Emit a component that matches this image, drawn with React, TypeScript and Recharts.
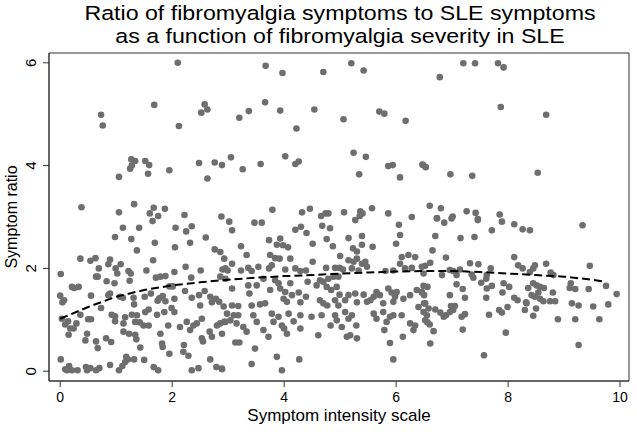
import React from 'react';
import { ScatterChart, Scatter, XAxis, YAxis, ReferenceArea } from 'recharts';

type Pt = [number, number];

// points with a ratio near 3 or higher
const highRatioPoints: Pt[] = [
  [2.1, 6.0], [1.68, 5.18], [2.58, 5.19], [2.63, 5.09], [2.52, 5.03], [0.73, 4.99], [0.76, 4.78], [2.12, 4.77],
  [1.27, 4.12], [1.34, 4.09], [1.52, 4.09], [1.59, 4.01], [1.25, 3.94], [1.28, 4.0], [1.57, 3.84], [1.95, 3.91],
  [1.05, 3.78], [2.48, 4.05], [2.76, 4.06], [2.89, 4.01], [2.63, 3.75], [0.38, 3.19], [1.05, 3.09], [1.32, 3.25],
  [1.67, 3.18], [1.87, 3.16], [1.6, 3.07], [1.75, 3.02], [2.22, 3.04], [2.88, 3.01],
  [3.67, 5.94], [3.97, 5.8], [4.7, 5.82], [5.2, 5.99], [5.42, 5.85], [3.66, 5.23], [3.37, 5.06], [3.2, 4.93],
  [3.93, 5.07], [4.54, 5.09], [4.22, 4.72], [5.06, 4.9], [5.7, 5.05], [5.79, 5.01], [6.17, 4.87], [3.05, 4.16],
  [3.26, 3.93], [3.58, 4.03], [4.02, 4.18], [4.2, 4.03], [4.26, 4.08], [5.24, 4.25], [5.46, 4.17], [5.34, 3.83],
  [5.86, 3.99], [5.94, 4.01], [6.07, 3.77], [6.47, 4.02], [3.79, 3.14], [4.32, 3.09], [4.46, 3.16], [4.66, 3.02],
  [4.74, 3.07], [4.79, 3.07], [5.07, 3.09], [5.36, 3.11], [5.4, 3.07], [5.35, 3.02], [5.57, 3.17], [5.86, 3.07],
  [6.28, 3.0],
  [7.2, 5.99], [7.41, 5.99], [7.82, 5.99], [7.92, 5.91], [6.78, 5.72], [7.87, 5.14], [8.68, 4.99], [6.48, 4.01],
  [6.53, 3.97], [6.97, 3.83], [7.36, 3.8], [8.53, 3.86], [6.6, 3.22], [6.8, 3.17], [6.73, 2.98], [7.01, 3.01],
  [7.26, 3.11], [7.42, 3.08], [7.46, 2.96], [7.85, 3.05],
];

// intensity 0-3
const lowIntensityPoints: Pt[] = [
  [1.12, 2.79], [1.41, 2.79], [1.65, 2.92], [2.06, 2.79], [2.25, 2.72], [2.35, 2.82], [0.98, 2.61], [1.27, 2.57],
  [1.69, 2.5], [2.05, 2.41], [2.32, 2.5], [2.6, 2.6], [1.37, 2.35], [1.66, 2.16], [0.36, 2.19], [0.54, 2.15],
  [0.63, 2.2], [0.89, 2.17], [0.69, 2.0], [0.86, 2.08], [0.99, 2.0], [1.02, 1.9], [1.08, 2.08], [1.22, 1.95],
  [1.26, 1.9], [1.54, 1.96], [0.01, 1.89], [0.64, 1.84], [0.67, 1.84], [0.83, 1.75], [0.97, 1.71], [1.24, 1.76],
  [1.71, 1.82], [1.79, 1.84], [1.88, 1.85], [2.04, 1.93], [2.24, 2.03], [2.34, 1.82], [2.51, 1.96], [2.76, 2.37],
  [2.9, 1.98], [0.21, 1.64], [0.25, 1.62], [0.33, 1.64], [0.55, 1.47], [0.86, 1.48], [0.89, 1.51], [0.0, 1.47],
  [0.04, 1.34], [0.07, 1.38], [0.73, 1.23], [1.07, 1.45], [1.12, 1.43], [1.31, 1.43], [1.32, 1.3], [1.51, 1.45],
  [1.62, 1.51], [1.74, 1.37], [1.77, 1.42], [1.83, 1.46], [1.95, 1.65], [2.01, 1.65], [1.88, 1.36], [2.04, 1.41],
  [2.23, 1.56], [2.35, 1.43], [2.48, 1.48], [2.58, 1.56], [2.68, 1.45], [2.71, 1.34], [2.78, 1.41], [2.84, 1.35],
  [1.58, 1.2], [1.52, 1.15], [1.73, 1.1], [1.86, 1.15], [1.99, 1.23], [2.04, 1.15], [2.5, 1.28], [0.92, 1.1],
  [0.98, 1.07], [0.98, 0.97], [1.16, 1.05], [1.13, 0.93], [1.28, 1.1], [1.37, 1.09], [1.34, 0.96], [1.42, 0.95],
  [1.49, 0.89], [1.58, 0.89], [0.5, 1.01], [0.55, 1.01], [0.03, 1.02], [0.14, 0.97], [0.09, 0.91], [0.18, 0.83],
  [0.24, 0.83], [0.29, 0.93], [0.36, 1.1], [0.15, 0.71], [0.48, 0.73], [0.45, 0.6], [0.64, 0.58], [0.67, 0.45],
  [0.82, 0.64], [0.91, 0.57], [1.13, 0.77], [1.23, 0.73], [1.34, 0.71], [1.36, 0.62], [1.43, 0.46], [1.79, 0.73],
  [1.82, 0.54], [1.83, 0.47], [1.93, 0.89], [2.14, 0.86], [2.26, 0.96], [2.32, 0.8], [2.38, 0.89], [2.44, 0.93],
  [2.53, 1.02], [2.53, 0.64], [2.55, 0.58], [2.67, 0.77], [2.71, 0.67], [2.8, 0.89], [2.86, 0.93], [2.93, 0.96],
  [2.89, 0.73], [2.21, 0.51], [2.2, 0.38], [2.29, 0.3], [1.95, 0.34], [0.01, 0.23], [0.16, 0.1], [0.09, 0.04],
  [0.12, 0.02], [0.21, 0.02], [0.31, 0.02], [0.46, 0.08], [0.48, 0.02], [0.54, 0.06], [0.64, 0.02], [0.7, 0.06],
  [0.89, 0.12], [1.05, 0.02], [1.11, 0.1], [1.18, 0.28], [1.16, 0.18], [1.21, 0.23], [1.32, 0.23], [1.5, 0.22],
  [1.67, 0.08], [1.75, 0.02], [2.35, 0.02], [2.47, 0.06], [2.68, 0.23], [2.79, 0.08], [2.89, 0.05],
];

// intensity 3-6.5
const midIntensityPoints: Pt[] = [
  [3.02, 2.91], [3.07, 2.74], [3.47, 2.89], [3.6, 2.89], [4.2, 2.75], [4.3, 2.81], [4.4, 2.69], [4.68, 2.83],
  [4.82, 2.78], [5.27, 2.94], [6.05, 2.85], [6.07, 2.65], [6.0, 2.48], [3.73, 2.55], [3.93, 2.58], [3.98, 2.45],
  [4.07, 2.41], [3.87, 2.46], [4.51, 2.48], [4.76, 2.57], [4.87, 2.43], [5.15, 2.59], [5.39, 2.63], [5.39, 2.46],
  [5.23, 2.39], [5.3, 2.33], [5.58, 2.42], [3.23, 2.43], [3.33, 2.26], [2.86, 2.32], [2.95, 2.0], [2.99, 1.96],
  [3.07, 2.09], [2.93, 2.19], [3.23, 1.96], [3.36, 2.01], [3.42, 1.95], [3.54, 2.03], [3.73, 2.0], [3.78, 2.06],
  [3.84, 2.2], [3.92, 2.19], [4.11, 2.19], [3.75, 2.26], [4.02, 1.98], [4.2, 2.0], [4.29, 1.95], [4.39, 1.96],
  [4.51, 2.13], [4.75, 2.01], [4.91, 2.01], [4.99, 2.01], [5.05, 1.98], [5.0, 2.24], [5.15, 2.16], [5.24, 2.13],
  [5.3, 2.19], [5.39, 2.09], [5.45, 2.13], [5.21, 2.0], [5.33, 1.96], [5.48, 2.03], [5.81, 1.95], [5.95, 1.96],
  [6.07, 2.09], [6.1, 2.22], [6.22, 2.26], [6.34, 2.22], [6.46, 2.03], [6.28, 2.01], [6.16, 2.0],
  [2.86, 1.84], [2.95, 1.8], [3.07, 1.61], [3.36, 1.67], [3.38, 1.51], [3.51, 1.67], [3.63, 1.8], [3.75, 1.58],
  [3.84, 1.77], [3.9, 1.71], [3.93, 1.61], [4.02, 1.54], [4.11, 1.71], [3.99, 1.41], [4.05, 1.35], [4.14, 1.48],
  [4.26, 1.53], [4.29, 1.34], [4.42, 1.74], [4.39, 1.45], [4.58, 1.67], [4.64, 1.77], [4.7, 1.74], [4.79, 1.8],
  [4.88, 1.84], [4.97, 1.84], [4.76, 1.64], [4.84, 1.58], [4.94, 1.64], [4.64, 1.38], [4.7, 1.32], [4.77, 1.28],
  [4.91, 1.38], [4.97, 1.28], [4.99, 1.49], [5.09, 1.38], [5.15, 1.48], [5.27, 1.51], [5.3, 1.34], [5.42, 1.49],
  [5.48, 1.35], [5.54, 1.38], [5.6, 1.45], [5.65, 1.54], [5.71, 1.48], [5.77, 1.32], [5.86, 1.61], [5.92, 1.53],
  [5.98, 1.45], [5.95, 1.35], [6.01, 1.54], [6.13, 1.41], [6.25, 1.48], [6.37, 1.58], [6.46, 1.54], [6.52, 1.32],
  [2.92, 1.26], [3.07, 1.28], [3.18, 1.27], [2.98, 1.12], [3.1, 1.09], [2.95, 0.96], [3.04, 0.99], [3.18, 1.09],
  [3.15, 0.93], [3.27, 0.86], [3.33, 0.77], [3.42, 1.28], [3.57, 1.3], [3.66, 1.32], [3.45, 1.09], [3.51, 0.96],
  [3.63, 0.8], [3.72, 0.67], [3.78, 1.12], [3.81, 0.96], [3.9, 1.06], [3.96, 0.89], [4.0, 0.83], [4.05, 0.73],
  [4.08, 1.12], [4.17, 0.97], [4.29, 1.09], [4.29, 0.83], [4.49, 1.06], [4.61, 0.7], [4.67, 1.09], [4.83, 0.89],
  [4.91, 1.09], [4.94, 0.99], [5.03, 0.86], [5.09, 1.15], [5.15, 1.02], [5.21, 1.09], [5.18, 0.7], [5.29, 0.89],
  [5.12, 0.67], [5.3, 0.64], [5.6, 1.12], [5.65, 1.02], [5.77, 1.15], [5.83, 0.96], [5.89, 1.06], [5.95, 1.09],
  [5.79, 0.8], [5.89, 0.55], [5.95, 0.23], [6.1, 1.09], [6.12, 0.67], [6.25, 0.93], [6.34, 0.89], [6.4, 1.25],
  [6.31, 0.8], [6.49, 1.15], [3.13, 0.56], [3.2, 0.56], [3.48, 0.44], [3.42, 0.14], [3.87, 0.28], [3.96, 0.02],
  [4.27, 0.23], [2.89, 0.04],
];

// intensity 6.5-10
const highIntensityPoints: Pt[] = [
  [6.73, 2.97], [6.86, 2.89], [6.99, 2.97], [7.46, 2.94], [7.71, 2.74], [7.89, 2.91], [8.11, 2.86], [8.26, 2.76],
  [8.39, 2.74], [9.33, 2.84], [7.15, 2.59], [7.4, 2.61], [6.7, 2.63], [6.65, 2.35], [6.89, 2.21], [6.61, 2.11],
  [6.52, 2.05], [6.49, 1.9], [6.82, 1.87], [6.96, 1.97], [7.02, 1.95], [7.08, 1.87], [7.14, 1.98], [7.32, 2.1],
  [7.47, 2.08], [7.35, 1.88], [7.38, 1.82], [7.62, 1.87], [7.69, 2.0], [7.61, 1.8], [8.11, 2.22], [8.18, 2.06],
  [8.26, 2.0], [8.39, 1.93], [8.45, 2.0], [8.48, 2.06], [8.68, 2.09], [8.76, 1.92], [8.81, 1.87], [9.46, 2.05],
  [6.49, 1.66], [6.56, 1.64], [6.46, 1.53], [6.5, 1.48], [7.08, 1.69], [7.19, 1.6], [7.23, 1.43], [6.96, 1.48],
  [7.52, 1.72], [7.61, 1.43], [7.62, 1.61], [7.71, 1.66], [7.92, 1.71], [7.9, 1.53], [8.02, 1.64], [8.11, 1.43],
  [8.17, 1.38], [8.33, 1.32], [8.36, 1.62], [8.45, 1.71], [8.51, 1.67], [8.57, 1.64], [8.64, 1.62], [8.42, 1.48],
  [8.48, 1.45], [8.54, 1.53], [8.57, 1.41], [8.63, 1.36], [8.8, 1.53], [8.75, 1.36], [8.84, 1.36], [9.1, 1.62],
  [9.12, 1.71], [9.2, 1.6], [9.44, 1.6], [9.75, 1.66], [9.94, 1.5], [9.14, 1.32], [9.26, 1.28], [9.52, 1.26],
  [9.79, 1.3],
  [6.5, 1.32], [6.58, 1.22], [6.7, 1.2], [6.55, 1.09], [6.52, 0.99], [6.56, 0.95], [6.6, 0.91], [6.67, 0.78],
  [6.61, 0.54], [6.79, 1.14], [6.85, 1.06], [6.89, 1.09], [6.96, 1.15], [7.02, 1.19], [7.05, 1.27], [6.98, 1.27],
  [7.23, 1.11], [7.17, 1.06], [7.19, 0.81], [7.66, 1.1], [7.84, 1.19], [7.89, 1.14], [7.99, 1.25], [8.3, 1.19],
  [8.32, 1.34], [8.5, 1.22], [8.45, 1.08], [8.89, 1.01], [9.2, 1.01], [9.26, 0.51], [9.63, 1.01], [7.96, 0.75],
  [7.57, 0.31],
];

// fitted curve
const fitX = [0, 0.5, 1, 1.5, 2, 2.5, 3, 3.5, 4, 4.5, 5, 5.5, 6, 6.5, 7, 7.5, 8, 8.5, 9, 9.5, 9.74];
const fitY = [1.02, 1.25, 1.45, 1.58, 1.67, 1.73, 1.78, 1.82, 1.85, 1.87, 1.9, 1.92, 1.94, 1.95, 1.95, 1.93, 1.9, 1.87, 1.84, 1.78, 1.74];

const xTicks = [0, 2, 4, 6, 8, 10];
const yTicks = [0, 2, 4, 6];

const FONT = '"Liberation Sans", Arial, Helvetica, sans-serif';
const X_DOMAIN: [number, number] = [-0.2, 10.16];
const Y_DOMAIN: [number, number] = [-0.19, 6.19];

const scatterData = [...highRatioPoints, ...lowIntensityPoints, ...midIntensityPoints, ...highIntensityPoints].map(
  ([x, y]) => ({ x, y })
);
const fitData = fitX.map((x, i) => ({ x, y: fitY[i] }));

const Dot = (props: any) => <circle cx={props.cx} cy={props.cy} r={3.3} fill="#6e6e6e" />;

const YTick = ({ y, payload }: any) => (
  <text
    x={36}
    y={y}
    transform={`rotate(-90, 36, ${y})`}
    textAnchor="middle"
    fontSize={15}
    fontFamily={FONT}
    fill="#000"
  >
    {payload.value}
  </text>
);

export default function App() {
  return (
    <div style={{ position: 'absolute', left: 0, top: 0, width: 637, height: 432, background: '#fff', fontFamily: FONT }}>
      <div
        style={{
          position: 'absolute', left: 0, top: 1, width: 680, textAlign: 'center', fontSize: 20.5, lineHeight: '23px',
          color: '#000', transform: 'scaleX(1.13)', transformOrigin: '340px 0',
        }}
      >
        Ratio of fibromyalgia symptoms to SLE symptoms
        <br />
        as a function of fibromyalgia severity in SLE
      </div>
      <div
        style={{
          position: 'absolute', left: 12, top: 217, fontSize: 16, color: '#000', whiteSpace: 'nowrap',
          transform: 'translate(-50%, -50%) rotate(-90deg)',
        }}
      >
        Symptom ratio
      </div>
      <ScatterChart width={637} height={432} margin={{ top: 53, right: 8, bottom: 0, left: 0 }} style={{ position: 'absolute', left: 0, top: 0 }}>
        <XAxis
          type="number"
          dataKey="x"
          domain={X_DOMAIN}
          ticks={xTicks}
          allowDataOverflow
          height={51}
          tickSize={6}
          tickMargin={5}
          axisLine={{ stroke: '#333' }}
          tickLine={{ stroke: '#333' }}
          tick={{ fill: '#000', fontSize: 14, fontFamily: FONT }}
        />
        <YAxis
          type="number"
          dataKey="y"
          domain={Y_DOMAIN}
          ticks={yTicks}
          allowDataOverflow
          width={49}
          tickSize={6}
          axisLine={{ stroke: '#333' }}
          tickLine={{ stroke: '#333' }}
          tick={<YTick />}
        />
        <ReferenceArea x1={X_DOMAIN[0]} x2={X_DOMAIN[1]} y1={Y_DOMAIN[0]} y2={Y_DOMAIN[1]} fill="none" stroke="#333" />
        <Scatter data={scatterData} shape={<Dot />} isAnimationActive={false} />
        <Scatter
          data={fitData}
          shape={() => <g />}
          line={{ stroke: '#000', strokeWidth: 2, strokeDasharray: '8 4' }}
          isAnimationActive={false}
        />
      </ScatterChart>
      <div style={{ position: 'absolute', left: 49, width: 580, top: 409, textAlign: 'center', fontSize: 17, lineHeight: '13px', color: '#000' }}>
        Symptom intensity scale
      </div>
    </div>
  );
}
